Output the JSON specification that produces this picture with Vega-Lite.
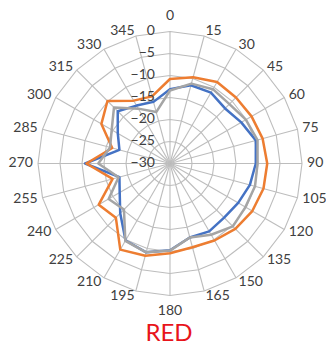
{
  "$schema": "https://vega.github.io/schema/vega-lite/v6.json",
  "width": 326,
  "height": 347,
  "autosize": {"type": "none"},
  "padding": 0,
  "background": "white",
  "config": {"view": {"stroke": null}},
  "title": {
    "text": "RED",
    "orient": "bottom",
    "anchor": "middle",
    "offset": -25,
    "dx": 6,
    "font": "Lato",
    "fontSize": 24,
    "fontWeight": "normal",
    "color": "#E8141B"
  },
  "datasets": {
    "response": [
      {"series": "A", "deg": 0, "db": -13.1}, {"series": "A", "deg": 15, "db": -11.6}, {"series": "A", "deg": 30, "db": -11.4},
      {"series": "A", "deg": 45, "db": -12.3}, {"series": "A", "deg": 60, "db": -11.3}, {"series": "A", "deg": 75, "db": -9.8},
      {"series": "A", "deg": 90, "db": -10.5}, {"series": "A", "deg": 105, "db": -11.2}, {"series": "A", "deg": 120, "db": -12.1},
      {"series": "A", "deg": 135, "db": -12.6}, {"series": "A", "deg": 150, "db": -12.2}, {"series": "A", "deg": 165, "db": -12.6},
      {"series": "A", "deg": 180, "db": -10.3}, {"series": "A", "deg": 195, "db": -9.1}, {"series": "A", "deg": 210, "db": -9.8},
      {"series": "A", "deg": 225, "db": -14.0}, {"series": "A", "deg": 240, "db": -16.8}, {"series": "A", "deg": 255, "db": -18.1},
      {"series": "A", "deg": 270, "db": -10.7}, {"series": "A", "deg": 285, "db": -18.1}, {"series": "A", "deg": 300, "db": -16.3},
      {"series": "A", "deg": 315, "db": -13.2}, {"series": "A", "deg": 330, "db": -14.8}, {"series": "A", "deg": 345, "db": -15.5},
      {"series": "B", "deg": 0, "db": -10.8}, {"series": "B", "deg": 15, "db": -9.7}, {"series": "B", "deg": 30, "db": -8.6},
      {"series": "B", "deg": 45, "db": -8.8}, {"series": "B", "deg": 60, "db": -8.6}, {"series": "B", "deg": 75, "db": -8.2},
      {"series": "B", "deg": 90, "db": -7.9}, {"series": "B", "deg": 105, "db": -8.0}, {"series": "B", "deg": 120, "db": -8.4},
      {"series": "B", "deg": 135, "db": -9.0}, {"series": "B", "deg": 150, "db": -9.8}, {"series": "B", "deg": 165, "db": -10.3},
      {"series": "B", "deg": 180, "db": -9.6}, {"series": "B", "deg": 195, "db": -8.3}, {"series": "B", "deg": 210, "db": -7.4},
      {"series": "B", "deg": 225, "db": -12.6}, {"series": "B", "deg": 240, "db": -11.3}, {"series": "B", "deg": 255, "db": -16.5},
      {"series": "B", "deg": 270, "db": -11.0}, {"series": "B", "deg": 285, "db": -16.4}, {"series": "B", "deg": 300, "db": -12.0},
      {"series": "B", "deg": 315, "db": -9.9}, {"series": "B", "deg": 330, "db": -13.5}, {"series": "B", "deg": 345, "db": -14.2},
      {"series": "C", "deg": 0, "db": -13.4}, {"series": "C", "deg": 15, "db": -11.2}, {"series": "C", "deg": 30, "db": -10.5},
      {"series": "C", "deg": 45, "db": -10.9}, {"series": "C", "deg": 60, "db": -10.1}, {"series": "C", "deg": 75, "db": -9.4},
      {"series": "C", "deg": 90, "db": -10.1}, {"series": "C", "deg": 105, "db": -10.0}, {"series": "C", "deg": 120, "db": -10.2},
      {"series": "C", "deg": 135, "db": -9.8}, {"series": "C", "deg": 150, "db": -11.3}, {"series": "C", "deg": 165, "db": -12.6},
      {"series": "C", "deg": 180, "db": -10.2}, {"series": "C", "deg": 195, "db": -9.1}, {"series": "C", "deg": 210, "db": -9.7},
      {"series": "C", "deg": 225, "db": -15.2}, {"series": "C", "deg": 240, "db": -13.9}, {"series": "C", "deg": 255, "db": -17.9},
      {"series": "C", "deg": 270, "db": -13.7}, {"series": "C", "deg": 285, "db": -15.9}, {"series": "C", "deg": 300, "db": -14.7},
      {"series": "C", "deg": 315, "db": -12.0}, {"series": "C", "deg": 330, "db": -15.6}, {"series": "C", "deg": 345, "db": -17.9}
    ],
    "rings": [
      {"level": -25, "deg": [0, 15, 30, 45, 60, 75, 90, 105, 120, 135, 150, 165, 180, 195, 210, 225, 240, 255, 270, 285, 300, 315, 330, 345]},
      {"level": -20, "deg": [0, 15, 30, 45, 60, 75, 90, 105, 120, 135, 150, 165, 180, 195, 210, 225, 240, 255, 270, 285, 300, 315, 330, 345]},
      {"level": -15, "deg": [0, 15, 30, 45, 60, 75, 90, 105, 120, 135, 150, 165, 180, 195, 210, 225, 240, 255, 270, 285, 300, 315, 330, 345]},
      {"level": -10, "deg": [0, 15, 30, 45, 60, 75, 90, 105, 120, 135, 150, 165, 180, 195, 210, 225, 240, 255, 270, 285, 300, 315, 330, 345]},
      {"level": -5, "deg": [0, 15, 30, 45, 60, 75, 90, 105, 120, 135, 150, 165, 180, 195, 210, 225, 240, 255, 270, 285, 300, 315, 330, 345]},
      {"level": 0, "deg": [0, 15, 30, 45, 60, 75, 90, 105, 120, 135, 150, 165, 180, 195, 210, 225, 240, 255, 270, 285, 300, 315, 330, 345]}
    ],
    "levels": [
      {"level": -30}, {"level": -25}, {"level": -20}, {"level": -15}, {"level": -10}, {"level": -5}, {"level": 0}
    ],
    "angles": [
      {"deg": 0}, {"deg": 15}, {"deg": 30}, {"deg": 45}, {"deg": 60}, {"deg": 75},
      {"deg": 90}, {"deg": 105}, {"deg": 120}, {"deg": 135}, {"deg": 150}, {"deg": 165},
      {"deg": 180}, {"deg": 195}, {"deg": 210}, {"deg": 225}, {"deg": 240}, {"deg": 255},
      {"deg": 270}, {"deg": 285}, {"deg": 300}, {"deg": 315}, {"deg": 330}, {"deg": 345}
    ]
  },
  "encoding": {
    "x": {"field": "px", "type": "quantitative", "axis": null, "scale": {"domain": [-38.636, 35.455], "nice": false, "zero": false}},
    "y": {"field": "py", "type": "quantitative", "axis": null, "scale": {"domain": [-41.705, 37.159], "nice": false, "zero": false}}
  },
  "layer": [
    {
      "data": {"name": "rings"},
      "transform": [
        {"flatten": ["deg"]},
        {"calculate": "(datum.level + 30) * sin(datum.deg * PI / 180)", "as": "px"},
        {"calculate": "(datum.level + 30) * cos(datum.deg * PI / 180)", "as": "py"}
      ],
      "mark": {"type": "line", "interpolate": "linear-closed", "color": "#BDBDBD", "strokeWidth": 1.1},
      "encoding": {
        "detail": {"field": "level", "type": "nominal"},
        "order": {"field": "deg", "type": "quantitative"}
      }
    },
    {
      "data": {"name": "angles"},
      "transform": [
        {"calculate": "30 * sin(datum.deg * PI / 180)", "as": "px"},
        {"calculate": "30 * cos(datum.deg * PI / 180)", "as": "py"}
      ],
      "mark": {"type": "rule", "color": "#BDBDBD", "strokeWidth": 1.1},
      "encoding": {
        "x2": {"datum": 0},
        "y2": {"datum": 0}
      }
    },
    {
      "data": {"name": "response"},
      "transform": [
        {"calculate": "(datum.db + 30) * sin(datum.deg * PI / 180)", "as": "px"},
        {"calculate": "(datum.db + 30) * cos(datum.deg * PI / 180)", "as": "py"}
      ],
      "mark": {"type": "line", "interpolate": "linear-closed", "strokeWidth": 2.5, "strokeJoin": "round"},
      "encoding": {
        "color": {"field": "series", "type": "nominal", "legend": null,
          "scale": {"domain": ["A", "B", "C"], "range": ["#4472C4", "#ED7D31", "#A5A5A5"]}},
        "order": {"field": "deg", "type": "quantitative"}
      }
    },
    {
      "data": {"name": "levels"},
      "transform": [
        {"calculate": "0", "as": "px"},
        {"calculate": "datum.level + 30", "as": "py"}
      ],
      "mark": {"type": "text", "align": "right", "baseline": "middle", "dx": -15, "font": "Lato", "fontSize": 14, "color": "#404040"},
      "encoding": {"text": {"field": "level", "type": "quantitative"}}
    },
    {
      "data": {"name": "angles"},
      "transform": [
        {"filter": "datum.deg > 0 && datum.deg < 180"},
        {"calculate": "31.14 * sin(datum.deg * PI / 180)", "as": "px"},
        {"calculate": "31.14 * cos(datum.deg * PI / 180)", "as": "py"}
      ],
      "mark": {"type": "text", "align": "left", "baseline": "middle", "font": "Lato", "fontSize": 14, "color": "#404040"},
      "encoding": {"text": {"field": "deg", "type": "quantitative"}}
    },
    {
      "data": {"name": "angles"},
      "transform": [
        {"filter": "datum.deg > 180"},
        {"calculate": "31.14 * sin(datum.deg * PI / 180)", "as": "px"},
        {"calculate": "31.14 * cos(datum.deg * PI / 180)", "as": "py"}
      ],
      "mark": {"type": "text", "align": "right", "baseline": "middle", "font": "Lato", "fontSize": 14, "color": "#404040"},
      "encoding": {"text": {"field": "deg", "type": "quantitative"}}
    },
    {
      "data": {"name": "angles"},
      "transform": [
        {"filter": "datum.deg == 0"},
        {"calculate": "0", "as": "px"},
        {"calculate": "32.5", "as": "py"}
      ],
      "mark": {"type": "text", "align": "center", "baseline": "alphabetic", "font": "Lato", "fontSize": 14, "color": "#404040"},
      "encoding": {"text": {"field": "deg", "type": "quantitative"}}
    },
    {
      "data": {"name": "angles"},
      "transform": [
        {"filter": "datum.deg == 180"},
        {"calculate": "0", "as": "px"},
        {"calculate": "-31.9", "as": "py"}
      ],
      "mark": {"type": "text", "align": "center", "baseline": "top", "font": "Lato", "fontSize": 14, "color": "#404040"},
      "encoding": {"text": {"field": "deg", "type": "quantitative"}}
    }
  ]
}
